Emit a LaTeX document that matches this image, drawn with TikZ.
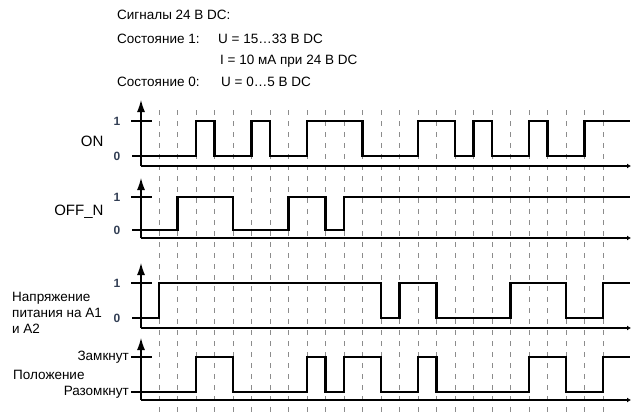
\documentclass[tikz,border=0pt]{standalone}
\usepackage{fontspec}
\setmainfont{Liberation Sans}
\usetikzlibrary{arrows.meta}
\definecolor{lvl}{RGB}{50,62,84}
\begin{document}
\begin{tikzpicture}[x=1pt, y=-1pt, font=\fontsize{13.5}{15}\selectfont, line join=miter,
		gline/.style={black!45, line width=0.9pt, dash pattern=on 5pt off 6pt},
		sig/.style={line width=2.4pt},
		ax/.style={line width=1.1pt},
		hdrtxt/.style={anchor=west, inner sep=0pt},
		lvlnum/.style={font=\fontsize{12}{12}\selectfont\bfseries, text=lvl},
		signame/.style={font=\fontsize{15}{17}\selectfont, anchor=east}]
	\useasboundingbox (0,0) rectangle (632,412);
	\def\g#1{159+18.5*#1}
	% header
	\node[hdrtxt] (hdr) at (117,15) {Сигналы 24 В DC:};
	\node[hdrtxt] (st1) at (117,39) {Состояние 1:};
	\node[hdrtxt] (u1) at (218,39) {U = 15…33 В DC};
	\node[hdrtxt] (i1) at (220,61) {I = 10 мА при 24 В DC};
	\node[hdrtxt] (st0) at (117,82) {Состояние 0:};
	\node[hdrtxt] (u0) at (221,82) {U = 0…5 В DC};
	% time grid
	\foreach \k in {0,...,24} \draw[gline] (\g{\k},110) -- (\g{\k},412);
	% axes, top/hi/axis
	\foreach \t/\h/\a [count=\i] in {100/121/166, 178/197/238, 263/283/328, 338/357/400}{
		\draw[ax,-{Latex[length=12pt,width=8pt]}] (141,\a) coordinate (o\i) -- (141,\t);
		\draw[ax,-{Latex[length=4pt,width=5pt]}] (o\i) -- (631,\a);
		\draw[ax] (131,\h) -- (152,\h);
	}
	\foreach \h/\l [count=\i] in {121/156, 197/230, 283/318}{
		\node[lvlnum] (one\i) at (117,\h) {1};
		\node[lvlnum] (zero\i) at (117,\l) {0};
	}
	% labels
	\node[signame] (lon) at (107,141) {ON};
	\node[signame] (loff) at (107,212) {OFF\_N};
	\node[anchor=west, align=left, inner sep=0pt, font=\fontsize{13.5}{16}\selectfont] (lpow) at (12,313) {Напряжение\\питания на А1\\и А2};
	\node[anchor=east, inner sep=1pt] (lcl) at (130,357) {Замкнут};
	\node[anchor=west, inner sep=1pt] (lpos) at (12,375) {Положение};
	\node[anchor=east, inner sep=1pt] (lop) at (130,392) {Разомкнут};
	% signals
	\draw[sig] (132,156) -| (\g{2},121) -| (\g{3},156) -| (\g{5},121) -| (\g{6},156) -| (\g{8},121)
		-| (\g{11},156) -| (\g{14},121) -| (\g{16},156) -| (\g{17},121) -| (\g{18},156)
		-| (\g{20},121) -| (\g{21},156) -| (\g{23},121) -- (630,121);
	\draw[sig] (132,230) -| (\g{1},197) -| (\g{4},230) -| (\g{7},197) -| (\g{9},230) -| (\g{10},197) -- (630,197);
	\draw[sig] (132,318) -| (\g{0},283) -| (\g{12},318) -| (\g{13},283) -| (\g{15},318) -| (\g{19},283)
		-| (\g{22},318) -| (\g{24},283) -- (630,283);
	\draw[sig] (131,392) -| (\g{2},357) -| (\g{4},392) -| (\g{8},357) -| (\g{9},392) -| (\g{10},357)
		-| (\g{12},392) -| (\g{14},357) -| (\g{15},392) -| (\g{20},357) -| (\g{22},392) -| (\g{24},357) -- (630,357);
\end{tikzpicture}
\end{document}
